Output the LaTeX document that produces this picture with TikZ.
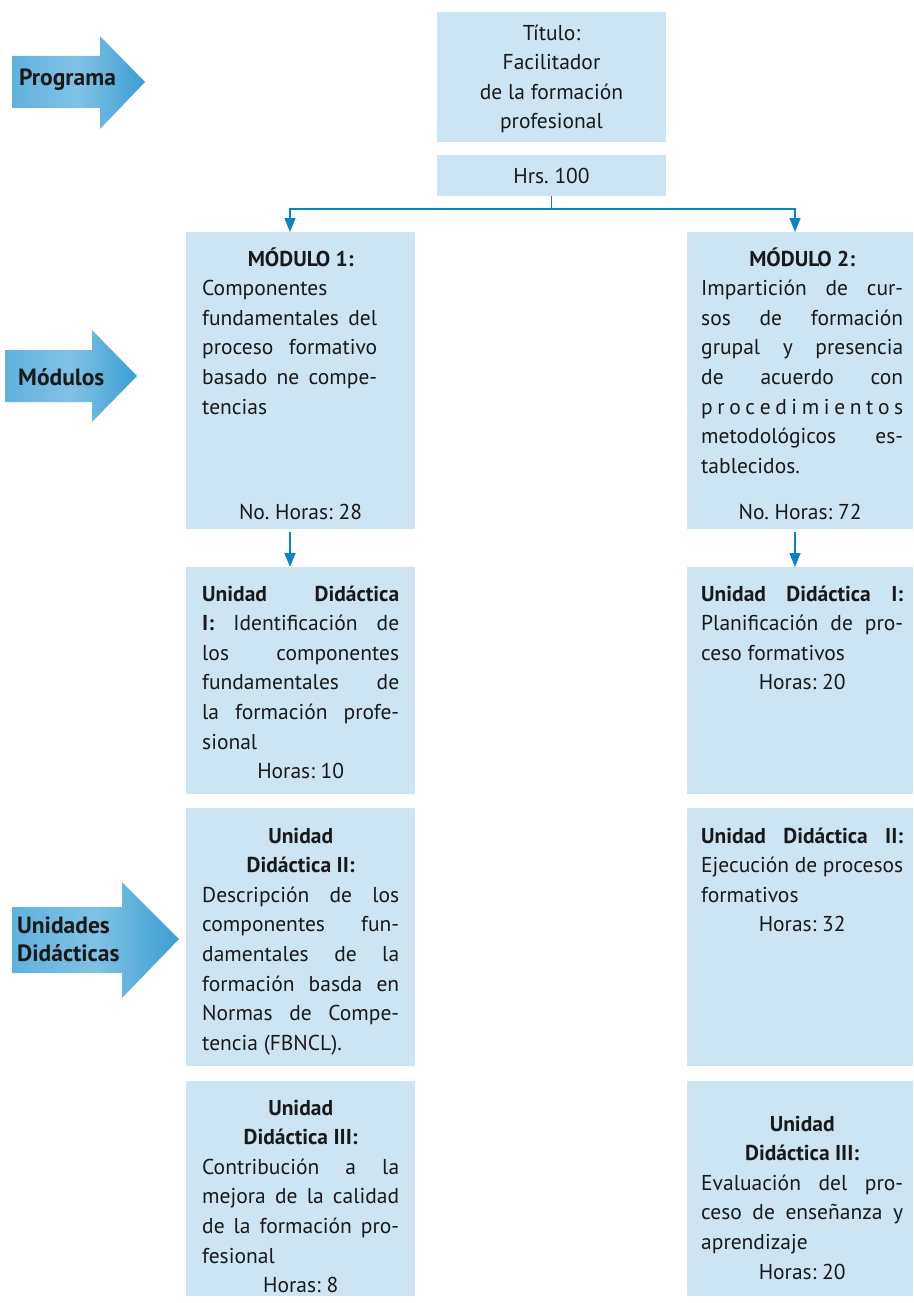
\documentclass[tikz,border=0pt]{standalone}
\usepackage{fontspec}
\setmainfont{PT Sans}
\usetikzlibrary{arrows.meta, calc}

\definecolor{boxblue}{RGB}{205,229,242}
\definecolor{linkblue}{RGB}{10,132,200}
\definecolor{arrowleft}{RGB}{96,178,222}
\definecolor{arrowmid}{RGB}{128,194,229}
\definecolor{arrowright}{RGB}{58,158,210}
\definecolor{textblack}{RGB}{25,25,25}

% lines of the justified box texts
\newcommand{\lineJ}[2][\hsize]{\hbox to#1{\spaceskip=0pt\xspaceskip=0pt\relax #2}}
\newcommand{\lineL}[1]{\hbox to\hsize{\spaceskip=0pt\xspaceskip=0pt\relax #1\hfil}}
\newcommand{\lineC}[1]{\hbox to\hsize{\spaceskip=0pt\xspaceskip=0pt\relax\hfil#1\hfil}}

\tikzset{
  boxcell/.style={fill=boxblue, inner sep=0pt, outer sep=0pt},
  boxtext/.style={font=\fontsize{21.5}{29.6}\selectfont\frenchspacing, text=textblack, inner sep=0pt, anchor=base west},
  boxtextc/.style={font=\fontsize{21.5}{29.6}\selectfont\frenchspacing, text=textblack, inner sep=0pt, align=center},
  link/.style={draw=linkblue, line width=1.5pt},
  linkarrow/.style={link, -{Triangle[width=11pt,length=14pt]}},
  tagtext/.style={font=\fontsize{23.5}{28}\selectfont\bfseries, text=textblack, align=left, inner sep=0pt, anchor=west},
  tagshade/.style={left color=arrowleft, right color=arrowright, middle color=arrowmid}
}

\begin{document}
\begin{tikzpicture}[x=1pt, y=-1pt]
\useasboundingbox (0,0) rectangle (913,1303);

% Side tags
\shade[tagshade] (12,56) -- (100,56) -- (100,36) -- (145,82) -- (100,129) -- (100,108) -- (12,108) -- cycle;
\node[tagtext] (tprog) at (19,80) {Programa};

\shade[tagshade] (5,350) -- (92,350) -- (92,330) -- (137,376) -- (92,422) -- (92,402) -- (5,402) -- cycle;
\node[tagtext] (tmod) at (18,377) {Módulos};

\shade[tagshade] (12,907) -- (122,907) -- (122,882) -- (179,939) -- (122,998) -- (122,973) -- (12,973) -- cycle;
\node[tagtext] (tud) at (17,939) {Unidades\\Didácticas};

% Boxes
\node[boxcell, minimum width=229pt, minimum height=130pt] (titulo) at (551.5,77) {};
\node[boxcell, minimum width=229pt, minimum height=41pt] (horas) at (551.5,175.5) {};
\node[boxcell, minimum width=229pt, minimum height=297pt] (mod1) at (300.5,380.5) {};
\node[boxcell, minimum width=226pt, minimum height=297pt] (mod2) at (800,380.5) {};
\node[boxcell, minimum width=229pt, minimum height=227pt] (udA1) at (300.5,680.5) {};
\node[boxcell, minimum width=229pt, minimum height=258pt] (udA2) at (300.5,937) {};
\node[boxcell, minimum width=229pt, minimum height=215pt] (udA3) at (300.5,1188.5) {};
\node[boxcell, minimum width=226pt, minimum height=227pt] (udB1) at (800,680.5) {};
\node[boxcell, minimum width=226pt, minimum height=258pt] (udB2) at (800,937) {};
\node[boxcell, minimum width=226pt, minimum height=215pt] (udB3) at (800,1188.5) {};

% Connectors
\draw[link] (horas.south) -- ++(0,13) coordinate (split);
\draw[linkarrow] (split) -| ($(mod1.north)+(-10.5,0)$);
\draw[linkarrow] (split) -| ($(mod2.north)+(-5,0)$);
\draw[linkarrow] ($(mod1.south)+(-10.5,3)$) -- ($(udA1.north)+(-10.5,0)$);
\draw[linkarrow] ($(mod2.south)+(-5,3)$) -- ($(udB1.north)+(-5,0)$);

% Texts
\node[boxtextc] (titulotxt) at ($(titulo)+(0,2)$) {Título:\\Facilitador\\de la formación\\profesional};
\node[boxtextc] (horastxt) at (horas) {Hrs. 100};

\node[boxtext, text width=197pt] (mod1txt) at ($(mod1.north west)+(16,34)$) {
  \lineC{\textbf{MÓDULO 1:}}
  \lineL{Componentes}
  \lineJ[175pt]{fundamentales del}
  \lineJ[175pt]{proceso formativo}
  \lineJ[175pt]{basado ne compe-}
  \lineL{tencias}
};
\node[boxtextc, anchor=base] (mod1hrs) at ($(mod1.south)+(0,-10)$) {No. Horas: 28};

\node[boxtext, text width=202pt] (mod2txt) at ($(mod2.north west)+(14,34)$) {
  \lineC{\textbf{MÓDULO 2:}}
  \lineJ{Impartición de cur-}
  \lineJ{sos de formación}
  \lineJ{grupal y presencia}
  \lineJ{de acuerdo con}
  \lineJ{p\hfil r\hfil o\hfil c\hfil e\hfil d\hfil i\hfil m\hfil i\hfil e\hfil n\hfil t\hfil o\hfil s}
  \lineJ{metodológicos es-}
  \lineL{tablecidos.}
};
\node[boxtextc, anchor=base] (mod2hrs) at ($(mod2.south)+(0,-10)$) {No. Horas: 72};

\node[boxtext, text width=197pt] (udA1txt) at ($(udA1.north west)+(16,34)$) {
  \lineJ{\textbf{Unidad Didáctica}}
  \lineJ{\textbf{I:} Identificación de}
  \lineJ{los componentes}
  \lineJ{fundamentales de}
  \lineJ{la formación profe-}
  \lineL{sional}
  \lineC{Horas: 10}
};

\node[boxtext, text width=197pt] (udA2txt) at ($(udA2.north west)+(16,35)$) {
  \lineC{\textbf{Unidad}}
  \lineC{\textbf{Didáctica II:}}
  \lineJ{Descripción de los}
  \lineJ{componentes fun-}
  \lineJ{damentales de la}
  \lineJ{formación basda en}
  \lineJ{Normas de Compe-}
  \lineL{tencia (FBNCL).}
};

\node[boxtext, text width=197pt] (udA3txt) at ($(udA3.north west)+(16,34)$) {
  \lineC{\textbf{Unidad}}
  \lineC{\textbf{Didáctica III:}}
  \lineJ{Contribución a la}
  \lineJ{mejora de la calidad}
  \lineJ{de la formación pro-}
  \lineL{fesional}
  \lineC{Horas: 8}
};

\node[boxtext, text width=202pt] (udB1txt) at ($(udB1.north west)+(14,34)$) {
  \lineJ{\textbf{Unidad Didáctica I:}}
  \lineJ{Planificación de pro-}
  \lineL{ceso formativos}
  \lineC{Horas: 20}
};

\node[boxtext, text width=202pt] (udB2txt) at ($(udB2.north west)+(14,35)$) {
  \lineJ{\textbf{Unidad Didáctica II:}}
  \lineJ{Ejecución de procesos}
  \lineL{formativos}
  \lineC{Horas: 32}
};

\node[boxtext, text width=202pt] (udB3txt) at ($(udB3.north west)+(14,50)$) {
  \lineC{\textbf{Unidad}}
  \lineC{\textbf{Didáctica III:}}
  \lineJ{Evaluación del pro-}
  \lineJ{ceso de enseñanza y}
  \lineL{aprendizaje}
  \lineC{Horas: 20}
};
\end{tikzpicture}
\end{document}
